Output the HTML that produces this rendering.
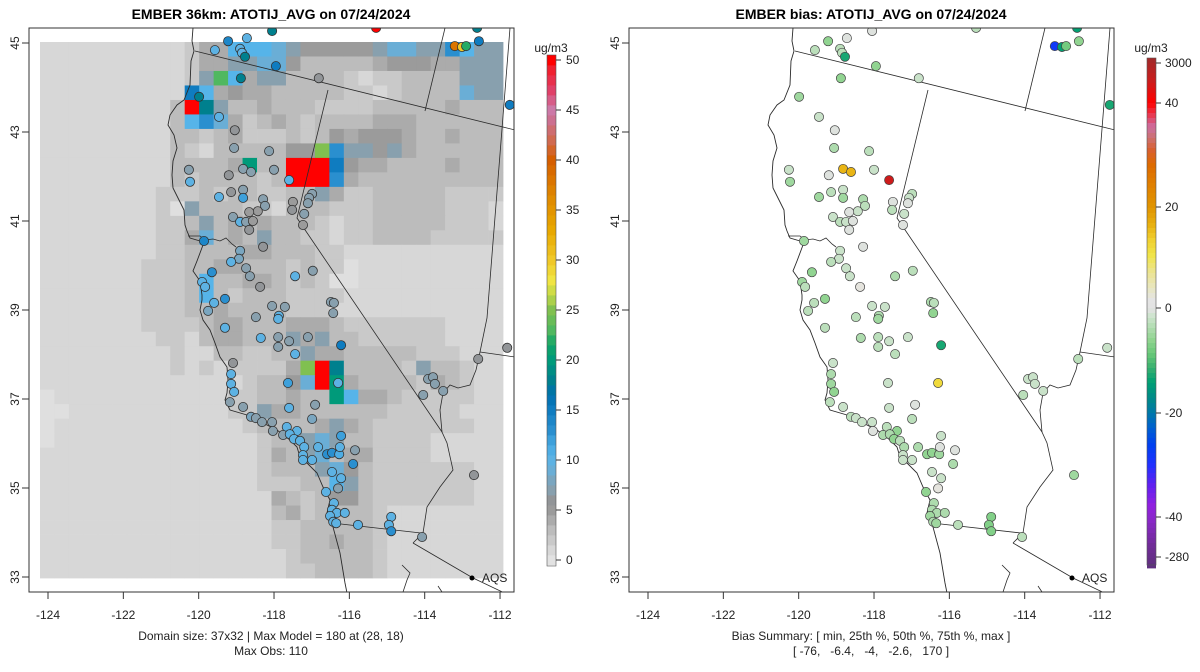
<!DOCTYPE html>
<html><head><meta charset="utf-8"><style>
html,body{margin:0;padding:0;background:#fff}
svg{display:block;font-family:"Liberation Sans",Arial,sans-serif}
</style></head><body>
<svg id="chart" width="1200" height="672" viewBox="0 0 1200 672" xmlns="http://www.w3.org/2000/svg">
<defs>
<clipPath id="clipL"><rect x="29" y="28" width="485" height="564"/></clipPath>
<clipPath id="clipR"><rect x="629" y="28" width="485" height="564"/></clipPath>
</defs>
<rect width="1200" height="672" fill="#fff"/>
<text x="271" y="19" text-anchor="middle" font-size="14" font-weight="bold">EMBER 36km: ATOTIJ_AVG on 07/24/2024</text>
<text x="871" y="19" text-anchor="middle" font-size="14" font-weight="bold">EMBER bias: ATOTIJ_AVG on 07/24/2024</text>
<g id="gridL" clip-path="url(#clipL)"></g>
<g id="mapL" clip-path="url(#clipL)"></g>
<g id="mapR" clip-path="url(#clipR)"></g>
<g id="sitesL" clip-path="url(#clipL)"></g>
<g id="sitesR" clip-path="url(#clipR)"></g>
<rect x="29" y="28" width="485" height="564" fill="none" stroke="#333" stroke-width="1"/>
<rect x="629" y="28" width="485" height="564" fill="none" stroke="#333" stroke-width="1"/>
<g id="axes" font-size="12" fill="#222"></g>
<g id="cbarL"></g>
<g id="cbarR"></g>
<g font-size="12" fill="#222">
<circle cx="472" cy="578" r="2.5" fill="#000"/>
<text x="482" y="582">AQS</text>
<circle cx="1072" cy="578" r="2.5" fill="#000"/>
<text x="1082" y="582">AQS</text>
<text x="271" y="640" text-anchor="middle">Domain size: 37x32 | Max Model = 180 at (28, 18)</text>
<text x="271" y="655" text-anchor="middle">Max Obs: 110</text>
<text x="871" y="640" text-anchor="middle">Bias Summary: [ min, 25th %, 50th %, 75th %, max ]</text>
<text x="871" y="655" text-anchor="middle" xml:space="preserve">[ -76,   -6.4,   -4,   -2.6,   170 ]</text>
</g>
</svg>
<script>
const gridRows=[
"11111111112448887655555677669866",
"11111111112446677533333455544666",
"111111111126h8466333321223333666",
"1111111111b845443333322123333766",
"1111111113rt63343332222333334333",
"11111111138974234323333444333333",
"11111111133234222323545554334333",
"1111111113213333355y966564333333",
"11111111133334g33rrrb54433334333",
"11111111132333323rrr943333333333",
"11111111222323322336422333332222",
"11111111206333221333222333332221",
"11111111223634343332122333332221",
"11111111224734363322122333322222",
"11111111223333443332211111111111",
"11111112223344333232201111111111",
"11111112223833443232001111111111",
"11111112223832333222211111111111",
"11111112223343333222111111111111",
"11111112222344333444322222221111",
"11111111221344333646332222221111",
"11111111121133223364433333222111",
"111111111212122224yrt33332633211",
"1111111111111123357rg43333243211",
"01111111111112233433g84432222211",
"00111111111112264433333322222111",
"01111111111111233334643222222211",
"01111111111111123367633222211111",
"11111111111111124367344222211111",
"11111111111111123336753222222211",
"11111111111111122233863222222211",
"11111111111111114323553222222211",
"11111111111111113423333211111111",
"11111111111111112233333211111111",
"11111111111111112233433211111111",
"11111111111111111233333211111111",
"11111111111111111223333211111111"];
const codeKeys="0123456789btghyr";
const codeValues=[0.3,1,2,3,4,5,7,9,10.5,13,15,18,20,23,25,50];

const siteLon=[-118.72,-118.05,-119.22,-119.57,-118.90,-118.85,-118.77,-117.95,-116.81,-118.88,
-119.99,-119.46,-119.04,-119.06,-118.13,-120.26,-120.23,-119.20,-118.82,-118.61,
-118.00,-117.60,-119.14,-118.82,-119.46,-118.82,-118.29,-118.24,-118.43,-118.66,
-119.09,-118.90,-118.74,-118.56,-118.66,-117.50,-117.52,-116.99,-117.07,-117.10,
-117.20,-117.23,-119.86,-118.29,-118.90,-118.93,-119.14,-118.74,-119.65,-118.64,
-117.44,-116.97,-119.91,-119.83,-118.37,-119.30,-119.59,-118.05,-117.71,-116.49,
-116.41,-113.20,-113.01,-112.90,-112.56,-112.61,-115.29,-111.74,
-119.75,-118.48,-117.87,-117.89,-116.43,-119.30,-118.35,-117.89,-117.60,-117.10,
-117.89,-117.44,-116.22,-119.09,-119.14,-119.14,-119.06,-117.63,-116.30,-119.17,
-118.82,-117.60,-116.91,-116.99,-118.61,-118.48,-118.32,-118.05,-118.03,-117.66,
-117.39,-117.76,-117.58,-117.47,-117.31,-117.20,-117.23,-117.23,-116.99,-116.22,
-116.83,-116.59,-116.46,-116.27,-116.25,-115.85,-115.90,-116.46,-116.22,-116.30,
-116.62,-116.41,-116.46,-116.33,-116.12,-116.51,-116.43,-116.35,-115.77,-114.89,
-114.95,-114.89,-114.07,-113.91,-113.78,-113.73,-113.51,-114.04,-112.58,-111.81,-112.69];
const siteLat=[45.11,45.27,45.04,44.84,44.87,44.78,44.69,44.48,44.21,44.21,
43.79,43.34,43.04,42.64,42.57,42.15,41.88,42.03,42.17,42.10,
42.15,41.92,41.65,41.70,41.54,41.52,41.49,41.34,41.22,41.20,
41.09,40.98,40.98,41.00,40.80,41.43,41.25,41.61,41.52,41.40,
41.16,40.91,40.55,40.42,40.33,40.15,40.08,39.94,39.85,39.76,
39.76,39.88,39.63,39.52,39.52,39.25,39.16,39.09,39.07,39.18,
39.16,44.93,44.91,44.93,45.04,45.34,45.34,43.61,
38.98,38.84,38.87,38.80,38.93,38.60,38.37,38.39,38.30,38.39,
38.17,38.01,38.21,37.81,37.56,37.34,37.16,37.36,37.36,36.93,
36.82,36.80,36.87,36.55,36.60,36.57,36.48,36.48,36.28,36.37,
36.28,36.19,36.21,36.10,36.06,35.92,35.74,35.63,35.63,36.17,
35.92,35.76,35.79,35.76,35.92,35.85,35.54,35.36,35.22,34.99,
34.91,34.66,34.51,34.44,34.44,34.37,34.24,34.21,34.17,34.35,
34.17,34.03,33.90,37.45,37.49,37.34,37.18,37.09,37.90,38.15,35.29];
const siteObs=[10,18,14,10,10,10,18,15,6,18,
18,10,6,7,7,7,10,6,7,7,
7,10,6,7,10,12,7,7,5,5,
7,10,7,5,6,5,6,7,7,7,
7,5,14,6,8,8,10,7,13,7,
10,7,10,10,6,13,10,7,7,7,
7,38,30,22,15,18,50,15,
8,7,10,10,7,10,10,7,7,7,
7,10,15,6,10,10,10,12,10,7,
7,10,7,8,8,7,7,7,7,10,
10,7,10,10,10,10,10,10,10,12,
10,13,13,11,10,7,13,10,10,7,
10,10,10,10,10,10,10,10,10,10,
10,13,7,7,7,7,7,7,6,6,6];
const siteBias=[-0.5,-0.5,-6,-3,-3,-3,-13,-6,-2,-6,
-5,-2,-0.5,-4,-3,-2,-5,-0.5,16,16,
-2,170,-3,-2,-5,-5,-4,-3,-2,-0.5,
-2,-3,-2,-0.5,-0.5,-0.5,-3,-3,-2,-0.5,
-2,-0.5,-5,-0.5,-2,-2,-3,-2,-6,-2,
-4,-3,-5,-3,2,-6,-3,-2,-2,-4,
-3,-28,-14,-8,-6,-14,-3,-13,
-3,-3,-4,-5,-6,-3,-4,-3,-2,-2,
-3,-3,-13,-2,-4,-5,-6,-2,12,-3,
-2,-2,-0.5,-3,-3,-2,-2,-2,-0.5,-3,
-6,-4,-4,-6,-3,-4,-2,-2,-2,-2,
-4,-6,-6,-5,-0.5,-0.5,-4,-2,-2,2,
-6,-4,-4,-4,-4,-5,-4,-5,-3,-7,
-7,-7,-3,-2,-2,-2,-2,-3,-3,-2,-5];
const lonTicks=[-124,-122,-120,-118,-116,-114,-112];
const latTicks=[45,43,41,39,37,35,33];
const obsTicks=[0,5,10,15,20,25,30,35,40,45,50];
const biasTicks=[3000,40,20,0,-20,-40,-280];

const NS="http://www.w3.org/2000/svg";
function mk(tag,attrs,parent){const e=document.createElementNS(NS,tag);for(const k in attrs)e.setAttribute(k,attrs[k]);parent.appendChild(e);return e;}
function hex(c){return [parseInt(c.slice(1,3),16),parseInt(c.slice(3,5),16),parseInt(c.slice(5,7),16)];}
function interp(stops,v){if(v<=stops[0][0])return stops[0][1];for(let i=1;i<stops.length;i++){if(v<=stops[i][0]){const a=stops[i-1],b=stops[i];const t=(v-a[0])/(b[0]-a[0]);const A=hex(a[1]),B=hex(b[1]);return "rgb("+A.map((x,j)=>Math.round(x+(B[j]-x)*t)).join(",")+")";}}return stops[stops.length-1][1];}
const obsStops=[[0,'#e2e2e2'],[1,'#d7d7d7'],[2,'#c9c9c9'],[3,'#bcbcbc'],[4,'#ababab'],[5,'#9b9b9b'],[6,'#929598'],[7,'#88a0ae'],[8,'#7aa6c0'],[9,'#6aaed6'],[10.5,'#56b4e9'],[12,'#3da0db'],[13,'#2a8fcf'],[15,'#0f7cc0'],[16.5,'#0070b0'],[18,'#00808e'],[20,'#009a7a'],[21.5,'#10a468'],[23,'#50b860'],[25,'#80c050'],[26.5,'#c0d848'],[28,'#f0e442'],[30,'#f0c828'],[33,'#e8a800'],[36,'#e08c00'],[40,'#d55e00'],[42,'#d06a50'],[44,'#cc7090'],[45,'#cc79a7'],[47,'#e04068'],[49,'#f02030'],[50,'#ff0000']];
const biasYStops=[[58,'#a02a2a'],[80,'#c81e1e'],[103,'#ff0000'],[115,'#e83850'],[127,'#cc6fa0'],[138,'#cc7070'],[150,'#d86030'],[165,'#dd6a00'],[185,'#e08000'],[207,'#e09400'],[225,'#e8b010'],[240,'#f0d030'],[255,'#f0e448'],[272,'#ece490'],[288,'#e8e6c0'],[300,'#e4e4e4'],[309,'#e2e2e2'],[316,'#cfe4cf'],[328,'#b0dcb0'],[340,'#90d490'],[354,'#68c878'],[368,'#38b070'],[382,'#00a073'],[398,'#008a88'],[413,'#0078a8'],[428,'#0060d0'],[445,'#0040f0'],[465,'#2030ff'],[485,'#6020f0'],[505,'#9020e0'],[520,'#8a28c8'],[545,'#702c98'],[565,'#603080']];
const biasBreaks=[[-280,557],[-40,517],[-20,413],[0,308],[20,207],[40,103],[170,82],[3000,63]];
function biasY(v){if(v<=biasBreaks[0][0])return biasBreaks[0][1];for(let i=1;i<biasBreaks.length;i++){if(v<=biasBreaks[i][0]){const a=biasBreaks[i-1],b=biasBreaks[i];return a[1]+(b[1]-a[1])*(v-a[0])/(b[0]-a[0]);}}return 63;}
const obsColor=v=>interp(obsStops,v);
const biasColor=v=>interp(biasYStops,biasY(v));
const obsY=v=>560-10*v;
const xL=lon=>48+(lon+124)*37.67;
const xR=lon=>xL(lon)+600;
const yS=lat=>43+(45-lat)*44.5;

const gridL=document.getElementById('gridL');
const gx0=40,gx1=503,gy0=42,gy1=578,nC=32,nR=gridRows.length;
const cw=(gx1-gx0)/nC,rh=(gy1-gy0)/nR;
gridRows.forEach((row,r)=>{for(let c=0;c<nC;c++){const ch=row[c]||'1';const v=codeValues[codeKeys.indexOf(ch)];
const e=mk('rect',{x:(gx0+c*cw).toFixed(2),y:(gy0+r*rh).toFixed(2),width:(cw+0.4).toFixed(2),height:(rh+0.4).toFixed(2),fill:obsColor(v)},gridL);

}});

const basemap=[
["coastline","193,28 192,41 194,51 191,61 190,85 184,100 177,105 170,115 168,125 174,135 177,148 173,161 172,175 173,188 178,198 184,210 185,225 187,231 190,238 200,241 203,245 197,261 193,271 200,281 202,295 202,300 200,310 203,320 210,330 215,343 220,357 227,367 228,380 227,393 225,400 230,410 247,415 263,423 277,430 290,440 297,447 300,457 307,463 317,473 323,487 330,500 327,513 333,527 340,553 345,583 347,593"],
["sf-bay","188,236 200,236 205,240 213,239 220,241 226,238 232,244 236,247"],
["oregon-border","195,51 515,130"],
["idaho-border","445,28 425,111"],
["ca-nv-border","328,90 297,218 442,432"],
["colorado-river","480,352 476,370 470,385 458,388 450,385 443,393 440,410 442,432 447,443 453,470 440,487 427,507 423,533 413,543"],
["mexico-border-ca","332,523 421,533"],
["mexico-border-az","413,543 473,578 515,598"],
["ut-nv-border","510,28 487,318 480,352"],
["ut-az-border","480,352 515,357"],
["baja-coast","402,565 410,573 407,580 403,592"],
["baja-coast-2","438,586 442,592"]];
['mapL','mapR'].forEach((id,k)=>{const g=document.getElementById(id);basemap.forEach(b=>{
const pts=b[1].split(' ').map(p=>{const q=p.split(',');return (+q[0]+600*k)+','+q[1];}).join(' ');
const e=mk('polyline',{points:pts,fill:'none',stroke:'#2a2a2a','stroke-width':b[0]==='coastline'?0.9:0.8},g);

});});

const sL=document.getElementById('sitesL'),sR=document.getElementById('sitesR');
for(let i=0;i<siteLon.length;i++){
const a=mk('circle',{cx:xL(siteLon[i]).toFixed(1),cy:yS(siteLat[i]).toFixed(1),r:4.6,fill:obsColor(siteObs[i]),stroke:'#333','stroke-width':0.8},sL);


const b=mk('circle',{cx:xR(siteLon[i]).toFixed(1),cy:yS(siteLat[i]).toFixed(1),r:4.6,fill:biasColor(siteBias[i]),stroke:'#444','stroke-width':0.7},sR);

}

const ax=document.getElementById('axes');
[[xL,29],[xR,629]].forEach((f,k)=>{
lonTicks.forEach(t=>{const x=f[0](t);
const l=mk('line',{x1:x,y1:592,x2:x,y2:599,stroke:'#333'},ax);


const tx=mk('text',{x:x,y:619,'text-anchor':'middle'},ax);tx.textContent=t;

});
latTicks.forEach(t=>{const y=yS(t);const bx=f[1];
const l=mk('line',{x1:bx-7,y1:y,x2:bx,y2:y,stroke:'#333'},ax);


const tx=mk('text',{x:bx-10,y:y,'text-anchor':'middle',transform:'rotate(-90 '+(bx-10)+' '+y+')'},ax);tx.textContent=t;

});});

const cL=document.getElementById('cbarL');
for(let v=0;v<=50;v++){const e=mk('rect',{x:547,y:obsY(v)-5,width:9,height:10.4,fill:obsColor(v)},cL);

}
mk('rect',{x:547,y:55,width:9,height:511,fill:'none',stroke:'#555','stroke-width':0.6},cL);
obsTicks.forEach(t=>{const y=obsY(t);mk('line',{x1:556,y1:y,x2:561,y2:y,stroke:'#333'},cL);
const tx=mk('text',{x:566,y:y+4,'font-size':12,fill:'#222'},cL);tx.textContent=t;

});
const uL=mk('text',{x:551,y:52,'font-size':12,'text-anchor':'middle',fill:'#222'},cL);uL.textContent='ug/m3';



const cR=document.getElementById('cbarR');
for(let y=58;y<565;y+=5){const e=mk('rect',{x:1147,y:y,width:9,height:5.4,fill:interp(biasYStops,y+2.5)},cR);

}
mk('rect',{x:1147,y:58,width:9,height:507,fill:'none',stroke:'#555','stroke-width':0.6},cR);
biasTicks.forEach(t=>{const y=biasY(t);mk('line',{x1:1156,y1:y,x2:1161,y2:y,stroke:'#333'},cR);
const tx=mk('text',{x:1165,y:y+4,'font-size':12,fill:'#222'},cR);tx.textContent=t;

});
const uR=mk('text',{x:1151,y:52,'font-size':12,'text-anchor':'middle',fill:'#222'},cR);uR.textContent='ug/m3';


</script>
</body></html>
